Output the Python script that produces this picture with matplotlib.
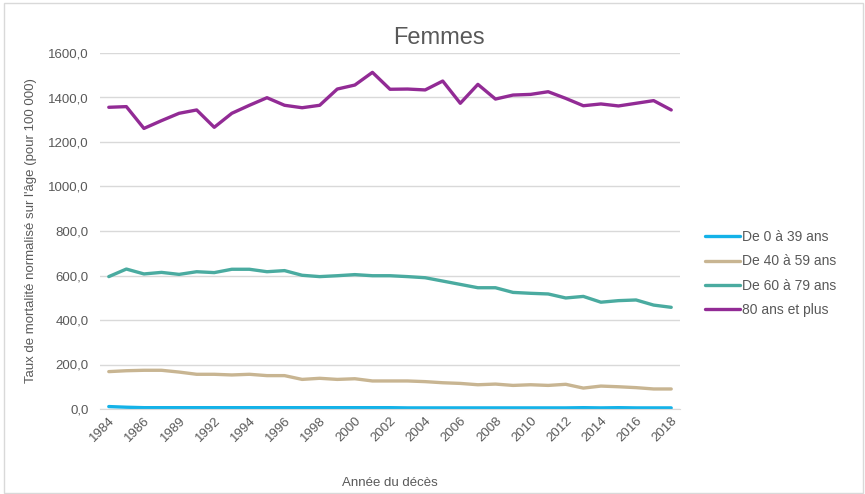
import matplotlib
matplotlib.use("Agg")
import matplotlib.pyplot as plt
from matplotlib.patches import Rectangle

plt.rcParams['font.family'] = ['Liberation Sans', 'DejaVu Sans']

years = [1984, 1985, 1986, 1987, 1989, 1990, 1992, 1993, 1994, 1995, 1996, 1997,
         1998, 1999, 2000, 2001, 2002, 2003, 2004, 2005, 2006, 2007, 2008, 2009,
         2010, 2011, 2012, 2013, 2014, 2015, 2016, 2017, 2018]

age_0_39 = [11, 8, 6, 6, 6, 6, 6, 6, 6, 6, 6, 6, 6, 6, 6, 6, 6, 5, 5, 5, 5, 5,
            5, 5, 5, 5, 5, 6, 5, 6, 5, 5, 5]
age_40_59 = [168, 172, 174, 174, 166, 156, 156, 153, 156, 150, 150, 133, 138, 133,
             136, 126, 126, 126, 123, 118, 115, 109, 112, 106, 109, 106, 111, 94,
             103, 100, 96, 90, 90]
age_60_79 = [595, 629, 607, 614, 605, 617, 613, 628, 628, 617, 622, 601, 595, 599,
             604, 599, 599, 595, 590, 575, 560, 545, 545, 524, 520, 517, 499, 506,
             480, 487, 490, 467, 457]
age_80p = [1356, 1359, 1261, 1296, 1329, 1344, 1266, 1329, 1365, 1399, 1365, 1354,
           1365, 1438, 1456, 1513, 1437, 1438, 1434, 1474, 1374, 1459, 1393, 1411,
           1414, 1426, 1396, 1363, 1371, 1362, 1374, 1386, 1344]

series_labels = ["De 0 à 39 ans", "De 40 à 59 ans", "De 60 à 79 ans", "80 ans et plus"]
series = [age_0_39, age_40_59, age_60_79, age_80p]
colors = ['#14B2E8', '#C8B592', '#4AABA0', '#922B95']

yticks = [0, 200, 400, 600, 800, 1000, 1200, 1400, 1600]

W, H = 865, 494
fig = plt.figure(figsize=(W / 100, H / 100), dpi=100)
ax = fig.add_axes([100 / W, 1 - 409 / H, 580 / W, 356 / H])

x = list(range(len(years)))
for vals, lab, col in zip(series, series_labels, colors):
    ax.plot(x, vals, color=col, lw=2.4, label=lab, solid_capstyle='round',
            solid_joinstyle='round')

ax.set_xlim(-0.5, len(years) - 0.5)
ax.set_ylim(0, 1600)
ax.set_yticks(yticks)
ax.set_yticklabels([f"{v:.1f}".replace('.', ',') for v in yticks],
                   fontsize=9.5, color='#595959')
ax.yaxis.grid(True, color='#D9D9D9', lw=1)
ax.set_axisbelow(True)
ax.tick_params(axis='y', length=0, pad=8)

ax.set_xticks(x[::2])
ax.set_xticklabels([str(y) for y in years[::2]], rotation=45, ha='right',
                   rotation_mode='anchor', fontsize=9.5, color='#595959')
ax.tick_params(axis='x', length=0, pad=4)

for s in ['top', 'right', 'left']:
    ax.spines[s].set_visible(False)
ax.spines['bottom'].set_color('#D9D9D9')

ax.set_ylabel("Taux de mortalité normalisé sur l'âge (pour 100 000)",
              fontsize=9.5, color='#595959', labelpad=8)
ax.set_xlabel("Année du décès", fontsize=9.5, color='#595959', labelpad=24)
fig.text(439 / W, 1 - 38 / H, "Femmes", fontsize=17, color='#595959',
         ha='center', va='center')

fig.legend(loc='upper left', bbox_to_anchor=(698 / W, 1 - 223 / H),
           frameon=False, fontsize=10, handlelength=2.5, handletextpad=0.15,
           labelspacing=0.75, borderpad=0, labelcolor='#595959')

fig.patches.append(Rectangle((4 / W, 1 / H), (W - 6) / W, (H - 4) / H,
                             transform=fig.transFigure, fill=False,
                             edgecolor='#D9D9D9', lw=1))

fig.savefig("out.png", dpi=100)
